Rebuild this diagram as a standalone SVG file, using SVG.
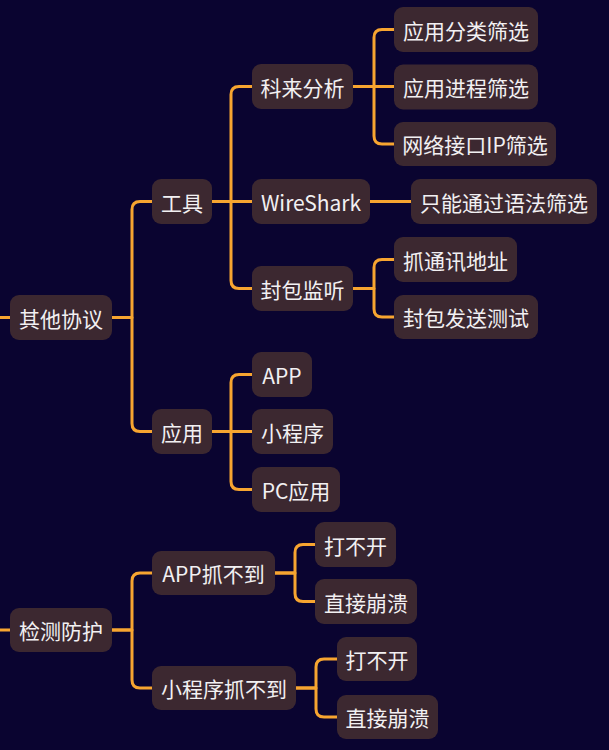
<svg xmlns="http://www.w3.org/2000/svg" width="609" height="750" viewBox="0 0 609 750">
<style>
.n rect{fill:#3c2830;}
.n text{fill:#f2f0f2;font-family:"Noto Sans CJK SC","Noto Sans",sans-serif;font-size:21px;text-anchor:middle;dominant-baseline:central;}
#connectors path{fill:none;stroke:#f7a530;stroke-width:3;stroke-linecap:round;stroke-linejoin:round;}
</style>
<rect width="609" height="750" fill="#0a0430"/>
<g id="connectors">
<path d="M0 317.5H10"/>
<path d="M0 630H10"/>
<path d="M112 317.5H132V209.5Q132 201.5 140 201.5H152"/>
<path d="M112 317.5H132V423.5Q132 431.5 140 431.5H152"/>
<path d="M212 201.5H231V94.5Q231 86.5 239 86.5H252"/>
<path d="M212 201.5H252"/>
<path d="M212 201.5H231V280.5Q231 288.5 239 288.5H252"/>
<path d="M353 86.5H374V37.5Q374 29.5 382 29.5H394"/>
<path d="M353 86.5H394"/>
<path d="M353 86.5H374V136Q374 144 382 144H394"/>
<path d="M370 201.5H411"/>
<path d="M353 288.5H374V267.5Q374 259.5 382 259.5H394"/>
<path d="M353 288.5H374V309Q374 317 382 317H394"/>
<path d="M212 431.5H231V382.5Q231 374.5 239 374.5H252"/>
<path d="M212 431.5H252"/>
<path d="M212 431.5H231V481.5Q231 489.5 239 489.5H252"/>
<path d="M112 630H132V581Q132 573 140 573H152"/>
<path d="M112 630H132V680Q132 688 140 688H152"/>
<path d="M275 573H295V552.5Q295 544.5 303 544.5H315"/>
<path d="M275 573H295V593.5Q295 601.5 303 601.5H315"/>
<path d="M296 688H316V667Q316 659 324 659H337"/>
<path d="M296 688H316V709Q316 717 324 717H337"/>
</g>
<g id="n-qitaxieyi" class="n"><rect x="10" y="295" width="102" height="45" rx="9"/><text x="61" y="317.5">其他协议</text></g>
<g id="n-jiancefanghu" class="n"><rect x="10" y="608" width="102" height="44" rx="9"/><text x="61" y="630">检测防护</text></g>
<g id="n-gongju" class="n"><rect x="152" y="179" width="60" height="45" rx="9"/><text x="182" y="201.5">工具</text></g>
<g id="n-yingyong" class="n"><rect x="152" y="409" width="60" height="45" rx="9"/><text x="182" y="431.5">应用</text></g>
<g id="n-kelai" class="n"><rect x="252" y="64" width="101" height="45" rx="9"/><text x="302.5" y="86.5">科来分析</text></g>
<g id="n-wireshark" class="n"><rect x="252" y="179" width="118" height="45" rx="9"/><text x="311" y="201.5">WireShark</text></g>
<g id="n-fengbao" class="n"><rect x="252" y="266" width="101" height="45" rx="9"/><text x="302.5" y="288.5">封包监听</text></g>
<g id="n-fenlei" class="n"><rect x="394" y="7" width="144" height="45" rx="9"/><text x="466" y="29.5">应用分类筛选</text></g>
<g id="n-jincheng" class="n"><rect x="394" y="64.5" width="144" height="45" rx="9"/><text x="466" y="87">应用进程筛选</text></g>
<g id="n-wangluo" class="n"><rect x="394" y="122" width="162" height="44" rx="9"/><text x="475" y="144">网络接口IP筛选</text></g>
<g id="n-yufa" class="n"><rect x="411" y="179" width="186" height="45" rx="9"/><text x="504" y="201.5">只能通过语法筛选</text></g>
<g id="n-zhua" class="n"><rect x="394" y="237" width="123" height="45" rx="9"/><text x="455.5" y="259.5">抓通讯地址</text></g>
<g id="n-fasong" class="n"><rect x="394" y="295" width="144" height="44" rx="9"/><text x="466" y="317">封包发送测试</text></g>
<g id="n-app" class="n"><rect x="252" y="352" width="60" height="45" rx="9"/><text x="282" y="374.5">APP</text></g>
<g id="n-xiaochengxu" class="n"><rect x="252" y="409" width="81" height="45" rx="9"/><text x="292.5" y="431.5">小程序</text></g>
<g id="n-pc" class="n"><rect x="252" y="467" width="88" height="45" rx="9"/><text x="296" y="489.5">PC应用</text></g>
<g id="n-appzhua" class="n"><rect x="152" y="551" width="123" height="44" rx="9"/><text x="213.5" y="573">APP抓不到</text></g>
<g id="n-xcxzhua" class="n"><rect x="152" y="666" width="144" height="44" rx="9"/><text x="224" y="688">小程序抓不到</text></g>
<g id="n-dabukai1" class="n"><rect x="315" y="522" width="81" height="45" rx="9"/><text x="355.5" y="544.5">打不开</text></g>
<g id="n-bengkui1" class="n"><rect x="315" y="579" width="102" height="45" rx="9"/><text x="366" y="601.5">直接崩溃</text></g>
<g id="n-dabukai2" class="n"><rect x="337" y="637" width="80" height="44" rx="9"/><text x="377" y="659">打不开</text></g>
<g id="n-bengkui2" class="n"><rect x="337" y="695" width="101" height="44" rx="9"/><text x="387.5" y="717">直接崩溃</text></g>
</svg>
